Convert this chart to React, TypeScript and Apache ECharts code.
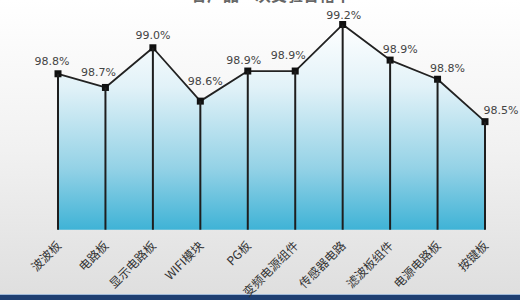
import React, { useEffect, useRef } from "react";
import * as echarts from "echarts";

const categories = ["波波板", "电路板", "显示电路板", "WIFI模块", "PG板", "变频电源组件", "传感器电路", "滤波板组件", "电源电路板", "按键板"];
const passRates = [98.84, 98.74, 99.03, 98.64, 98.86, 98.86, 99.2, 98.94, 98.8, 98.49];
const titleText = "各产品一次交验合格率";

// label nudges (styling only), [dx, dy] in pixels
const labelNudges: [number, number][] = [
  [-6, 0], [-7, -3], [0, 0], [5, -8], [-4, 1], [-7, -4], [1, 3], [10, 1], [10, 1], [16, 1],
];

export default function App() {
  const ref = useRef<HTMLDivElement>(null);
  useEffect(() => {
    if (!ref.current) return;
    const chart = echarts.init(ref.current, null, { renderer: "svg" });
    chart.setOption({
      animation: false,
      backgroundColor: new echarts.graphic.LinearGradient(0, 0, 0, 1, [
        { offset: 0, color: "#ffffff" },
        { offset: 0.5, color: "#f1f1f1" },
        { offset: 1, color: "#dedede" },
      ]),
      title: {
        text: titleText,
        left: 186,
        top: -19,
        textStyle: { fontSize: 16, fontWeight: "bold", color: "#666", fontFamily: "Noto Sans CJK SC" },
      },
      grid: { left: 58, right: 35, top: 4, bottom: 68 },
      xAxis: {
        type: "category",
        data: categories,
        boundaryGap: false,
        axisLine: { show: false },
        axisTick: { show: false },
        axisLabel: {
          rotate: 45,
          interval: 0,
          fontSize: 12,
          color: "#333",
          margin: 13,
          fontFamily: "Noto Sans CJK SC",
        },
      },
      yAxis: {
        type: "value",
        min: 97.7,
        max: 99.35,
        show: false,
        splitLine: { show: false },
      },
      series: [
        {
          type: "bar",
          data: passRates,
          barWidth: 2,
          itemStyle: { color: "#1e1e1e" },
          silent: true,
          z: 3,
        },
        {
          type: "line",
          data: passRates.map((v, i) => ({
            value: v,
            label: { offset: labelNudges[i] },
          })),
          symbol: "rect",
          symbolSize: 7,
          itemStyle: { color: "#111" },
          lineStyle: { color: "#222", width: 1.8 },
          areaStyle: {
            origin: "start",
            opacity: 1,
            color: new echarts.graphic.LinearGradient(0, 0, 0, 1, [
              { offset: 0, color: "#ffffff" },
              { offset: 0.3, color: "#e2f2f8" },
              { offset: 0.7, color: "#94d2e6" },
              { offset: 1, color: "#3fb3d6" },
            ]),
          },
          label: {
            show: true,
            position: "top",
            distance: 3,
            fontSize: 11,
            color: "#444",
            fontFamily: "DejaVu Sans",
            formatter: (p: any) => Number(p.value).toFixed(1) + "%",
          },
          z: 2,
        },
      ],
      graphic: [
        { type: "rect", left: 0, bottom: 0, shape: { width: 520, height: 5 }, style: { fill: "#1f3f72" } },
        { type: "rect", left: 0, bottom: 5, shape: { width: 520, height: 1 }, style: { fill: "#9fb8d8" } },
      ],
    });
    return () => chart.dispose();
  }, []);
  return <div ref={ref} style={{ position: "fixed", left: 0, top: 0, width: 520, height: 300 }} />;
}
